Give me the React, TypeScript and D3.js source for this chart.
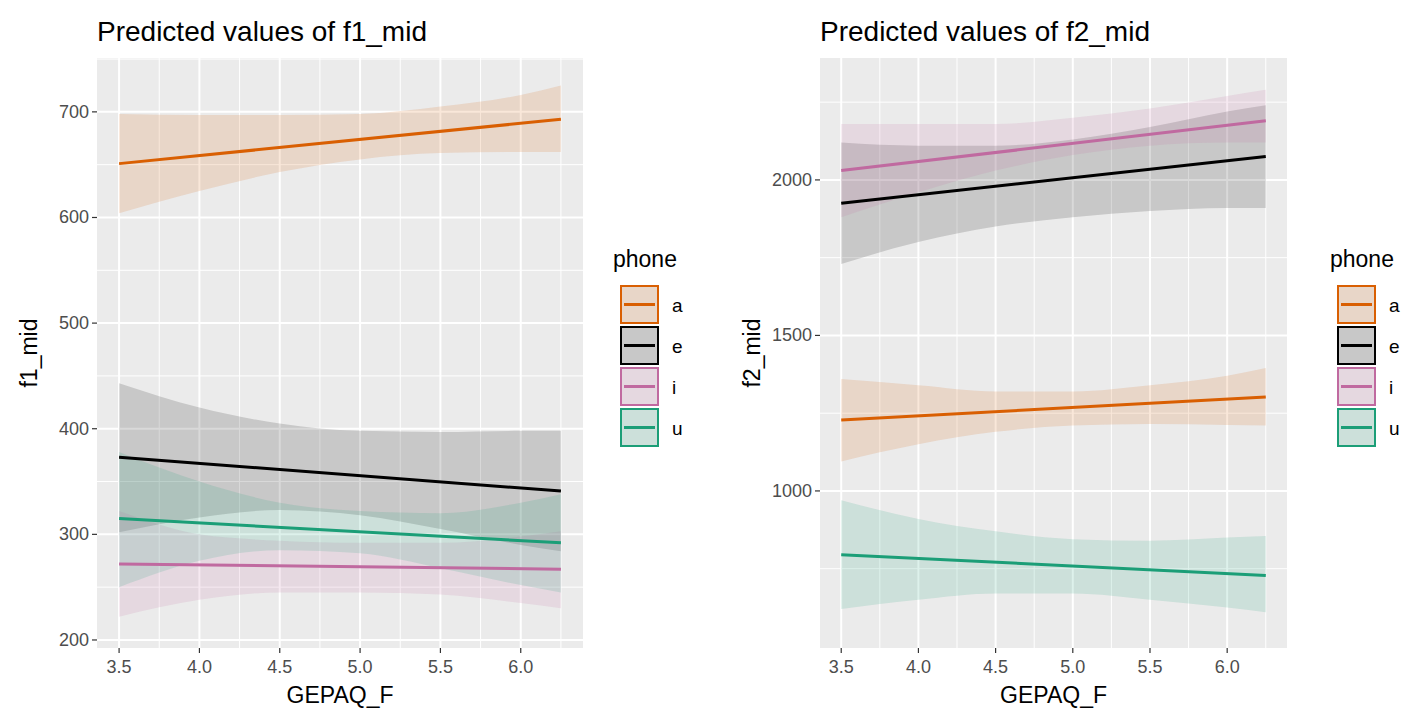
import * as d3 from 'd3';

const phones = ['a', 'e', 'i', 'u'];
const phoneColors = ['#D95F02', '#000000', '#C06AA0', '#1B9E77'];
const xs = [3.5, 4, 4.5, 5, 5.5, 6, 6.25];
const xTicks = [3.5, 4.0, 4.5, 5.0, 5.5, 6.0];

// f1_mid: fitted line ends and ribbon bounds at xs
const f1Line = [[651, 693], [373, 341], [272, 267], [315, 292]];
const f1Lower = [
  [604, 625, 643, 655, 661, 662, 662],
  [302, 316, 323, 318, 305, 290, 284],
  [222, 238, 245, 245, 243, 235, 230],
  [250, 275, 285, 282, 268, 252, 245],
];
const f1Upper = [
  [698, 697, 697, 698, 705, 716, 725],
  [443, 420, 405, 398, 397, 398, 398],
  [322, 300, 294, 292, 292, 298, 303],
  [378, 350, 330, 322, 320, 330, 338],
];
const f1Ticks = [200, 300, 400, 500, 600, 700];

const f2Line = [[1228, 1302], [1925, 2075], [2030, 2190], [795, 728]];
const f2Lower = [
  [1095, 1150, 1190, 1210, 1215, 1212, 1210],
  [1730, 1800, 1850, 1880, 1900, 1910, 1910],
  [1880, 1960, 2030, 2080, 2110, 2120, 2120],
  [620, 650, 670, 670, 650, 625, 610],
];
const f2Upper = [
  [1360, 1340, 1320, 1320, 1340, 1370, 1395],
  [2120, 2110, 2110, 2130, 2170, 2220, 2240],
  [2180, 2180, 2180, 2200, 2230, 2270, 2290],
  [970, 910, 870, 845, 840, 850, 855],
];
const f2Ticks = [1000, 1500, 2000];

const FONT = 'Arial, "Liberation Sans", sans-serif';

interface PanelProps {
  left: number; right: number; top: number; bottom: number;
  yDomain: [number, number]; yTicks: number[];
  line: number[][]; lower: number[][]; upper: number[][];
  title: string; yLabel: string; legendX: number;
}

const Panel = (p: PanelProps) => {
  const x = d3.scaleLinear().domain([3.3625, 6.3875]).range([p.left, p.right]);
  const y = d3.scaleLinear().domain(p.yDomain).range([p.bottom, p.top]);
  const minorX = xTicks.slice(0, -1).map((t) => t + 0.25).concat([3.25, 6.25]);
  const step = p.yTicks[1] - p.yTicks[0];
  const minorY = [p.yTicks[0] - step / 2, ...p.yTicks.map((t) => t + step / 2)];
  const area = d3.area<number>()
    .x((_, i) => x(xs[i]))
    .curve(d3.curveMonotoneX);
  return (
    <g fontFamily={FONT}>
      <text x={p.left} y={41} fontSize={28} fill="#000">{p.title}</text>
      <rect x={p.left} y={p.top} width={p.right - p.left} height={p.bottom - p.top} fill="#EBEBEB" />
      {minorX.filter((t) => x(t) > p.left && x(t) < p.right).map((t) => (
        <line key={'mx' + t} x1={x(t)} x2={x(t)} y1={p.top} y2={p.bottom} stroke="#fff" strokeWidth={1} />
      ))}
      {minorY.filter((t) => y(t) > p.top && y(t) < p.bottom).map((t) => (
        <line key={'my' + t} x1={p.left} x2={p.right} y1={y(t)} y2={y(t)} stroke="#fff" strokeWidth={1} />
      ))}
      {xTicks.map((t) => (
        <line key={'x' + t} x1={x(t)} x2={x(t)} y1={p.top} y2={p.bottom} stroke="#fff" strokeWidth={2} />
      ))}
      {p.yTicks.map((t) => (
        <line key={'y' + t} x1={p.left} x2={p.right} y1={y(t)} y2={y(t)} stroke="#fff" strokeWidth={2} />
      ))}
      {phones.map((ph, k) => (
        <path key={'r' + ph}
          d={area.y0((_, i) => y(p.lower[k][i])).y1((_, i) => y(p.upper[k][i]))(xs) || ''}
          fill={phoneColors[k]} fillOpacity={0.15} />
      ))}
      {phones.map((ph, k) => (
        <line key={'l' + ph} x1={x(3.5)} x2={x(6.25)} y1={y(p.line[k][0])} y2={y(p.line[k][1])}
          stroke={phoneColors[k]} strokeWidth={3} />
      ))}
      {xTicks.map((t) => (
        <g key={'xt' + t}>
          <line x1={x(t)} x2={x(t)} y1={p.bottom} y2={p.bottom + 5} stroke="#333" strokeWidth={1.2} />
          <text x={x(t)} y={p.bottom + 25} fontSize={18} fill="#4D4D4D" textAnchor="middle">{t.toFixed(1)}</text>
        </g>
      ))}
      {p.yTicks.map((t) => (
        <g key={'yt' + t}>
          <line x1={p.left - 5} x2={p.left} y1={y(t)} y2={y(t)} stroke="#333" strokeWidth={1.2} />
          <text x={p.left - 8} y={y(t) + 6} fontSize={18} fill="#4D4D4D" textAnchor="end">{t}</text>
        </g>
      ))}
      <text x={(p.left + p.right) / 2} y={p.bottom + 55} fontSize={23} textAnchor="middle">GEPAQ_F</text>
      <text transform={`translate(${p.left - 60},${(p.top + p.bottom) / 2}) rotate(-90)`} fontSize={23} textAnchor="middle">{p.yLabel}</text>
      <text x={p.legendX} y={267} fontSize={23}>phone</text>
      {phones.map((ph, k) => (
        <g key={'lg' + ph} transform={`translate(${p.legendX + 7},${285 + k * 41})`}>
          <rect x={0} y={0} width={39} height={39} fill="#EBEBEB" />
          <rect x={1} y={1} width={37} height={37} fill={phoneColors[k]} fillOpacity={0.15} stroke={phoneColors[k]} strokeWidth={2} />
          <line x1={4} x2={35} y1={19.5} y2={19.5} stroke={phoneColors[k]} strokeWidth={3} />
          <text x={52} y={27} fontSize={19}>{ph}</text>
        </g>
      ))}
    </g>
  );
};

export default function App() {
  return (
    <svg width={1417} height={724} style={{ display: 'block', margin: -8 }}>
      <rect width={1417} height={724} fill="#fff" />
      <Panel left={97} right={583} top={58} bottom={648} yDomain={[192.4, 751]} yTicks={f1Ticks}
        line={f1Line} lower={f1Lower} upper={f1Upper} title="Predicted values of f1_mid" yLabel="f1_mid" legendX={613} />
      <Panel left={820} right={1287} top={58} bottom={648} yDomain={[495, 2392]} yTicks={f2Ticks}
        line={f2Line} lower={f2Lower} upper={f2Upper} title="Predicted values of f2_mid" yLabel="f2_mid" legendX={1330} />
    </svg>
  );
}
